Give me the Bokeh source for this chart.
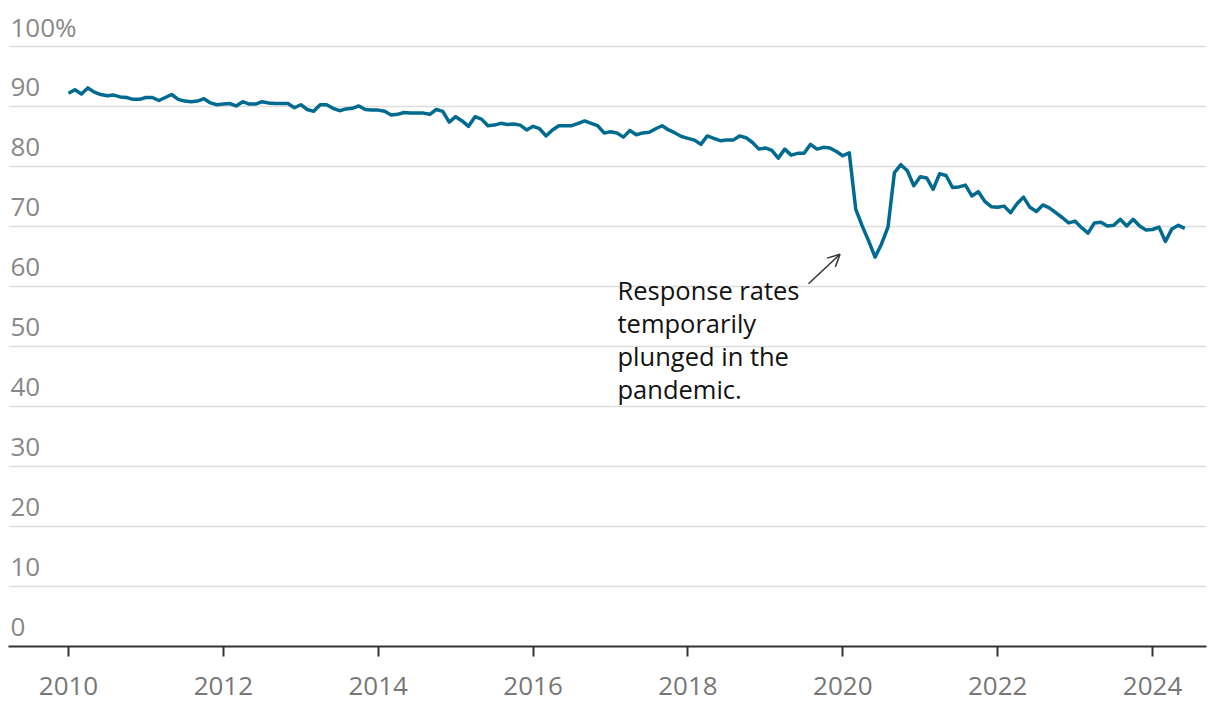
from bokeh.plotting import figure
from bokeh.models import FixedTicker, Range1d, Arrow, OpenHead, ColumnDataSource, Grid
from bokeh.embed import file_html
from bokeh.resources import INLINE
from bokeh.core.properties import value

# Monthly survey response rate (%), Jan 2010 - Jun 2024
rate_2010 = [92.2, 92.8, 92.1, 93.1, 92.4, 92.0, 91.8, 91.9, 91.6, 91.5, 91.2, 91.2]
rate_2011 = [91.5, 91.5, 91.0, 91.5, 92.0, 91.2, 90.9, 90.8, 90.9, 91.3, 90.6, 90.3]
rate_2012 = [90.4, 90.5, 90.1, 90.8, 90.4, 90.4, 90.8, 90.6, 90.5, 90.5, 90.5, 89.8]
rate_2013 = [90.3, 89.5, 89.2, 90.3, 90.3, 89.7, 89.3, 89.6, 89.7, 90.1, 89.5, 89.4]
rate_2014 = [89.4, 89.2, 88.6, 88.7, 89.0, 88.9, 88.9, 88.9, 88.7, 89.5, 89.2, 87.4]
rate_2015 = [88.3, 87.6, 86.7, 88.3, 87.9, 86.8, 86.9, 87.2, 87.0, 87.1, 86.9, 86.1]
rate_2016 = [86.7, 86.3, 85.1, 86.1, 86.8, 86.8, 86.8, 87.2, 87.6, 87.2, 86.8, 85.6]
rate_2017 = [85.8, 85.6, 84.9, 86.0, 85.3, 85.6, 85.7, 86.3, 86.8, 86.1, 85.6, 85.0]
rate_2018 = [84.7, 84.4, 83.7, 85.1, 84.7, 84.3, 84.4, 84.4, 85.1, 84.8, 84.0, 82.9]
rate_2019 = [83.1, 82.7, 81.4, 82.9, 81.9, 82.2, 82.2, 83.7, 82.9, 83.2, 83.1, 82.5]
rate_2020 = [81.8, 82.3, 72.9, 70.1, 67.6, 64.9, 67.1, 69.9, 79.0, 80.3, 79.3, 76.8]
rate_2021 = [78.3, 78.1, 76.2, 78.8, 78.5, 76.5, 76.6, 76.9, 75.1, 75.8, 74.2, 73.3]
rate_2022 = [73.2, 73.4, 72.3, 73.8, 74.9, 73.2, 72.5, 73.6, 73.1, 72.3, 71.5, 70.6]
rate_2023 = [70.9, 69.8, 68.9, 70.6, 70.7, 70.1, 70.2, 71.2, 70.1, 71.2, 70.1, 69.4]
rate_2024 = [69.5, 69.9, 67.5, 69.6, 70.2, 69.7]

first_year = 2010
rates = (rate_2010 + rate_2011 + rate_2012 + rate_2013 + rate_2014 + rate_2015 +
         rate_2016 + rate_2017 + rate_2018 + rate_2019 + rate_2020 + rate_2021 +
         rate_2022 + rate_2023 + rate_2024)
dates = [first_year + i / 12 for i in range(len(rates))]

y_ticks = [0, 10, 20, 30, 40, 50, 60, 70, 80, 90, 100]
y_tick_labels = ["0", "10", "20", "30", "40", "50", "60", "70", "80", "90", "100%"]
x_ticks = [2010, 2012, 2014, 2016, 2018, 2020, 2022, 2024]

note_lines = ["Response rates", "temporarily", "plunged in the", "pandemic."]

FONT = "Open Sans"

x0, x1 = 2009.225, 2024.697
p = figure(width=1220, height=710, output_backend="svg", toolbar_location=None,
           x_range=Range1d(x0, x1), y_range=Range1d(0, 107.67),
           y_axis_location=None,
           min_border_left=8, min_border_right=14, min_border_top=0, min_border_bottom=64)
p.outline_line_color = None
p.background_fill_color = "white"
p.border_fill_color = "white"
p.xgrid.grid_line_color = None
p.ygrid.grid_line_color = None

grid = Grid(dimension=1, ticker=FixedTicker(ticks=y_ticks),
            grid_line_color="#dddddd", grid_line_width=1.5)
p.add_layout(grid)

ax = p.xaxis[0]
ax.ticker = FixedTicker(ticks=x_ticks)
ax.axis_line_color = "#333333"
ax.axis_line_width = 2
ax.major_tick_line_color = "#333333"
ax.major_tick_line_width = 2
ax.major_tick_out = 10
ax.major_tick_in = 0
ax.minor_tick_line_color = None
ax.major_label_text_font = FONT
ax.major_label_text_font_size = "26px"
ax.major_label_text_color = "#777777"
ax.major_label_standoff = 20

# y tick labels inside the plot, above gridlines
ysrc = ColumnDataSource(dict(x=[x0] * len(y_ticks), y=y_ticks, t=y_tick_labels))
p.text(x="x", y="y", text="t", source=ysrc, x_offset=2, y_offset=-20,
       text_baseline="alphabetic", text_align="left",
       text_font=value(FONT), text_font_size="26px", text_color="#888888")

p.line(dates, rates, line_color="#006b8f", line_width=3.5, line_join="round")

# annotation
note_x = 2017.09
note_y = [57.53, 52.1, 46.6, 41.1]
p.text(x=[note_x] * 4, y=note_y, text=note_lines, text_baseline="alphabetic",
       text_align="left", text_font=value(FONT), text_font_size="25.5px",
       text_color="#121212", y_offset=-11)
p.add_layout(Arrow(end=OpenHead(size=12, line_color="#333333", line_width=1.5),
                   x_start=2019.557, y_start=60.45, x_end=2019.964, y_end=65.37,
                   line_color="#333333", line_width=1.5))

open("out.html", "w").write(file_html(p, INLINE))
